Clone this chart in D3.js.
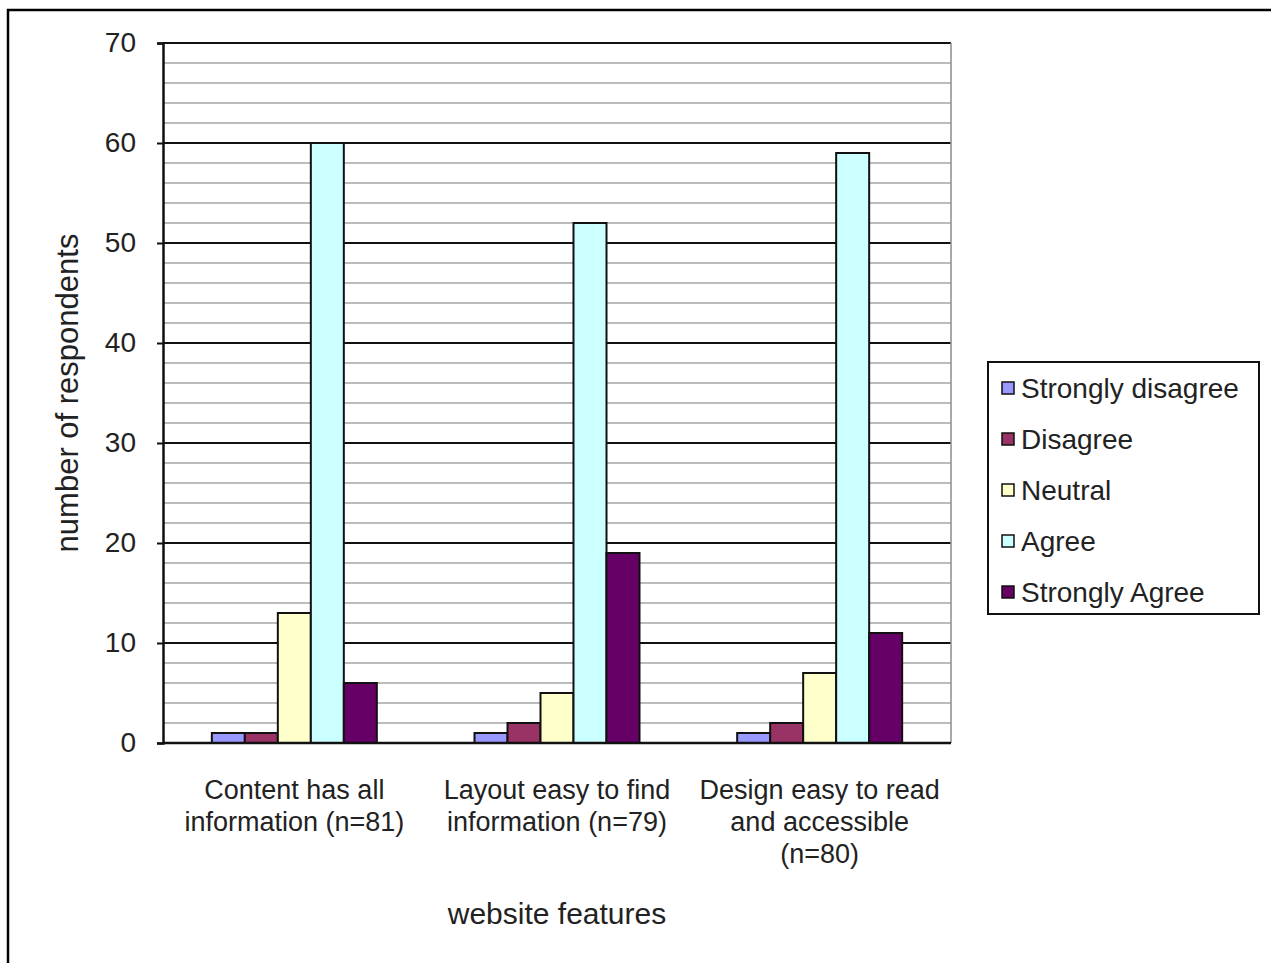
<!DOCTYPE html>
<html>
<head>
<meta charset="utf-8">
<script src="https://cdn.jsdelivr.net/npm/d3@7"></script>
<style>
  body { margin:0; background:#fff; }
  text { font-family: "Liberation Sans", Arial, sans-serif; fill:#222; }
</style>
</head>
<body>
<div id="chart"></div>
<script>
// data
var categories = ["Content has all information (n=81)",
                  "Layout easy to find information (n=79)",
                  "Design easy to read and accessible (n=80)"];
var categoryLines = [["Content has all", "information (n=81)"],
                     ["Layout easy to find", "information (n=79)"],
                     ["Design easy to read", "and accessible", "(n=80)"]];
var seriesNames = ["Strongly disagree", "Disagree", "Neutral", "Agree", "Strongly Agree"];
var stronglyDisagree = [1, 1, 1];
var disagree = [1, 2, 2];
var neutral = [13, 5, 7];
var agree = [60, 52, 59];
var stronglyAgree = [6, 19, 11];
var seriesColors = ["#9999FF", "#993366", "#FFFFCC", "#CCFFFF", "#660066"];
var yTicks = [0, 10, 20, 30, 40, 50, 60, 70];

var seriesValues = [stronglyDisagree, disagree, neutral, agree, stronglyAgree];

var W = 1271, H = 963;
var plot = { left:163, right:951, top:43, bottom:743 };

var svg = d3.select("#chart")
            .append("svg")
            .attr("width", W)
            .attr("height", H);

// outer chart frame
svg.append("rect")
    .attr("x", 8)
    .attr("y", 10)
    .attr("width", W + 20)
    .attr("height", H + 20)
    .attr("fill", "#fff")
    .attr("stroke", "#000")
    .attr("stroke-width", 2.5);

var yScale = d3.scaleLinear()
            .domain([0, 70])
            .range([plot.bottom, plot.top]);

var x0 = d3.scaleBand()
            .domain(categories)
            .range([plot.left, plot.right])
            .padding(0);

var x1 = d3.scaleBand()
            .domain(seriesNames)
            .range([0, x0.bandwidth()])
            .paddingInner(0)
            .paddingOuter(1.48);

// minor gridlines every 2
var minor = d3.range(2, 70, 2).filter(function (v) { return v % 10 !== 0; });
svg.selectAll(".minor")
    .data(minor)
    .enter()
    .append("line")
    .attr("class", "minor")
    .attr("x1", plot.left)
    .attr("x2", plot.right)
    .attr("y1", function (d) { return yScale(d); })
    .attr("y2", function (d) { return yScale(d); })
    .attr("stroke", "#a6a6a6")
    .attr("stroke-width", 1.5);

// major gridlines
svg.selectAll(".major")
    .data(yTicks.slice(1))
    .enter()
    .append("line")
    .attr("class", "major")
    .attr("x1", plot.left)
    .attr("x2", plot.right)
    .attr("y1", function (d) { return yScale(d); })
    .attr("y2", function (d) { return yScale(d); })
    .attr("stroke", "#111")
    .attr("stroke-width", 2);

// right border of plot area
svg.append("line")
    .attr("x1", plot.right)
    .attr("x2", plot.right)
    .attr("y1", plot.top)
    .attr("y2", plot.bottom)
    .attr("stroke", "#8c8c8c")
    .attr("stroke-width", 1.5);

// bars
var groups = svg.selectAll(".series")
    .data(seriesNames)
    .enter()
    .append("g")
    .attr("class", "series");

groups.selectAll("rect")
    .data(function (s, i) {
        return categories.map(function (c, j) {
            return { series:s, idx:i, cat:c, value:seriesValues[i][j] };
        });
    })
    .enter()
    .append("rect")
    .attr("x", function (d) { return x0(d.cat) + x1(d.series); })
    .attr("y", function (d) { return yScale(d.value); })
    .attr("width", x1.bandwidth())
    .attr("height", function (d) { return yScale(0) - yScale(d.value); })
    .attr("fill", function (d) { return seriesColors[d.idx]; })
    .attr("stroke", "#111")
    .attr("stroke-width", 2);

// y axis
var yAxis = d3.axisLeft(yScale)
            .tickValues(yTicks)
            .tickSize(6)
            .tickPadding(21);

var yAxisGroup = svg.append("g")
            .attr("class", "y axis")
            .attr("transform", "translate(" + plot.left + ",0)")
            .call(yAxis);

yAxisGroup.select(".domain").attr("stroke", "#111").attr("stroke-width", 2.5);
yAxisGroup.selectAll(".tick line").attr("stroke", "#111").attr("stroke-width", 2);
yAxisGroup.selectAll(".tick text")
    .attr("font-size", 28)
    .attr("font-family", "Liberation Sans, Arial, sans-serif")
    .attr("fill", "#222");

// x axis line
svg.append("line")
    .attr("x1", plot.left)
    .attr("x2", plot.right)
    .attr("y1", yScale(0))
    .attr("y2", yScale(0))
    .attr("stroke", "#111")
    .attr("stroke-width", 2.5);

// category labels
var catLabels = svg.selectAll(".catLabel")
    .data(categories)
    .enter()
    .append("text")
    .attr("class", "catLabel")
    .attr("text-anchor", "middle")
    .attr("font-size", 27)
    .attr("y", 799);

catLabels.selectAll("tspan")
    .data(function (d, i) { return categoryLines[i]; })
    .enter()
    .append("tspan")
    .attr("x", function () { return x0(d3.select(this.parentNode).datum()) + x0.bandwidth() / 2; })
    .attr("dy", function (d, i) { return i === 0 ? 0 : 32; })
    .text(function (d) { return d; });

// ---------- X Axis Label
svg.append("text")
    .attr("x", (plot.left + plot.right) / 2)
    .attr("y", 924)
    .attr("font-size", 30)
    .attr("text-anchor", "middle")
    .text("website features");

// ---------- Y Axis Label
svg.append("text")
    .attr("x", -(plot.top + plot.bottom) / 2)
    .attr("y", 78)
    .attr("font-size", 31)
    .attr("text-anchor", "middle")
    .attr("transform", "rotate(-90)")
    .text("number of respondents");

// legend
var legend = svg.append("g").attr("class", "legend");
legend.append("rect")
    .attr("x", 988)
    .attr("y", 362)
    .attr("width", 271)
    .attr("height", 252)
    .attr("fill", "#fff")
    .attr("stroke", "#111")
    .attr("stroke-width", 2);

var legendRows = legend.selectAll(".row")
    .data(seriesNames)
    .enter()
    .append("g")
    .attr("class", "row")
    .attr("transform", function (d, i) { return "translate(1002," + (388 + i * 51) + ")"; });

legendRows.append("rect")
    .attr("x", 0)
    .attr("y", -6)
    .attr("width", 12)
    .attr("height", 12)
    .attr("fill", function (d, i) { return seriesColors[i]; })
    .attr("stroke", "#111")
    .attr("stroke-width", 1.5);

legendRows.append("text")
    .attr("x", 19)
    .attr("y", 10)
    .attr("font-size", 28)
    .text(function (d) { return d; });
</script>
</body>
</html>
